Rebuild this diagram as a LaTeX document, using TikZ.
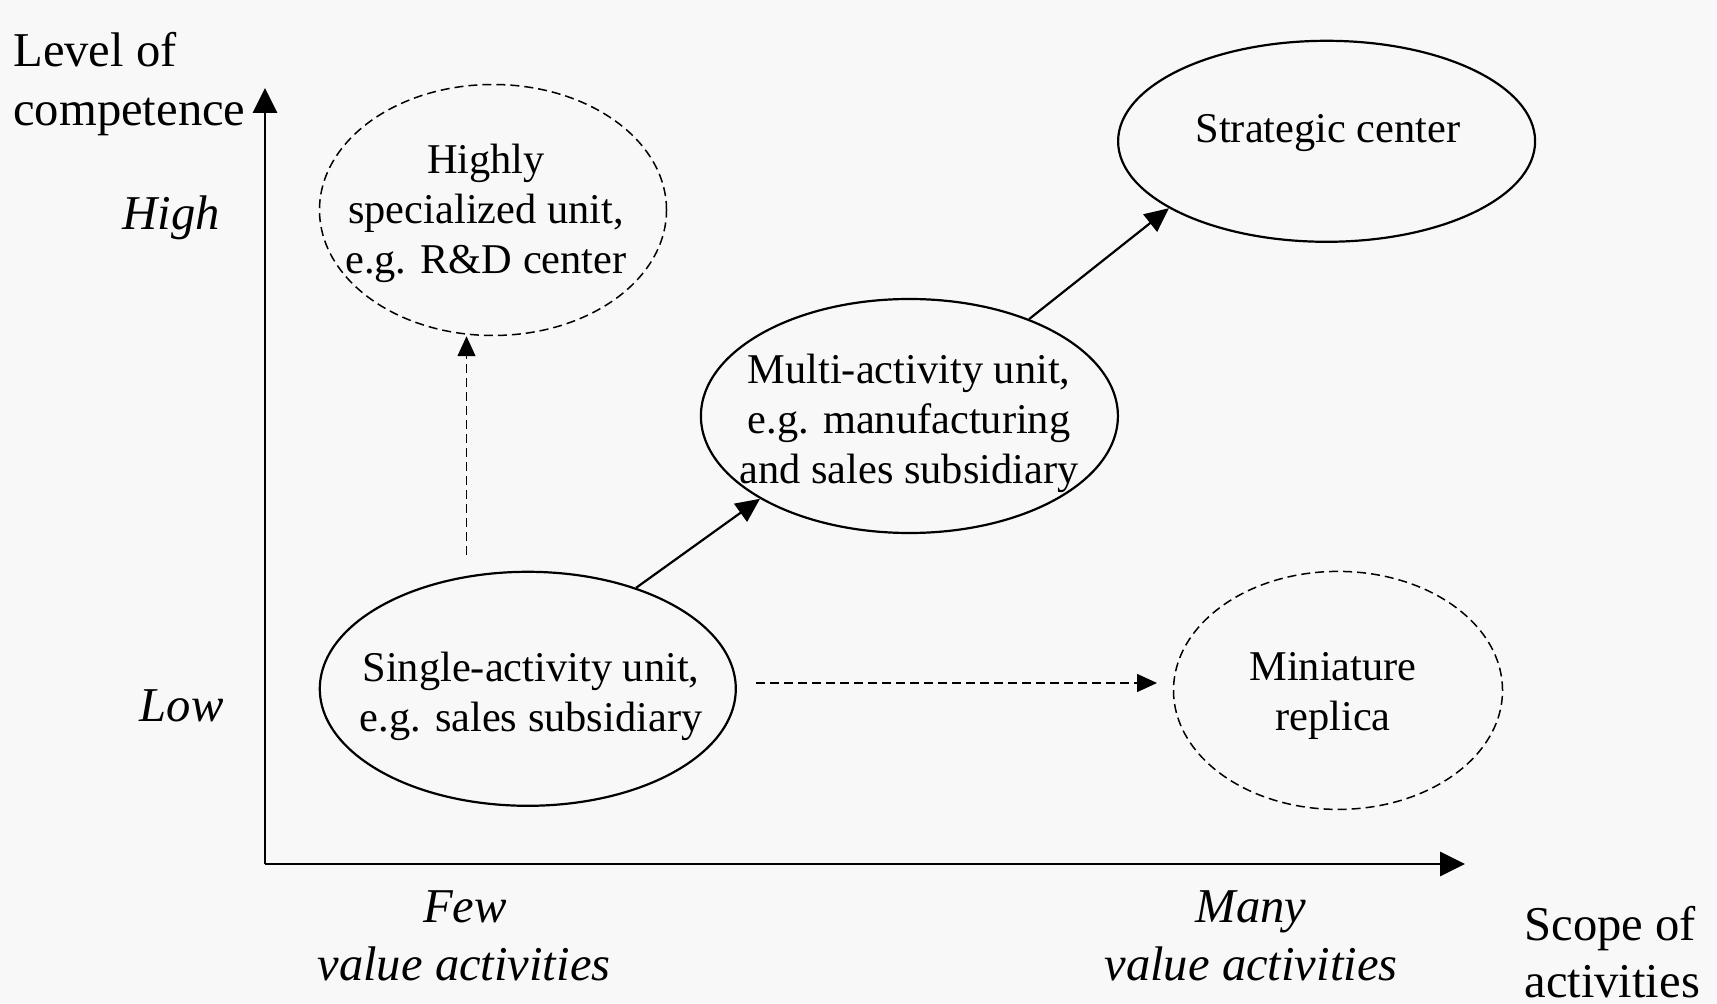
\documentclass[tikz,border=0pt]{standalone}
\usepackage{fontspec}
\setmainfont{Liberation Serif}
\usetikzlibrary{arrows.meta,shapes.geometric}
\definecolor{bg}{HTML}{F8F8F8}
\begin{document}
\begin{tikzpicture}[x=0.5pt,y=-0.5pt,
  unit/.style={ellipse,draw,line width=1.1pt,inner sep=0pt},
  dunit/.style={ellipse,draw,line width=0.75pt,dash pattern=on 4.5pt off 2.5pt,inner sep=0pt},
  utext/.style={align=center,font=\fontsize{21.2}{25}\selectfont,inner sep=0pt},
  axlab/.style={align=left,font=\fontsize{24.3}{29.5}\selectfont,inner sep=0pt},
  itlab/.style={align=center,font=\fontsize{24.3}{29.5}\selectfont\itshape,inner sep=0pt},
  axis/.style={line width=1.4pt,-{Triangle[length=12.5pt,width=12pt]}},
  conn/.style={line width=1.1pt,-{Triangle[length=12pt,width=11pt]}},
  dconn/.style={line width=0.75pt,dash pattern=on 4.5pt off 2.5pt,-{Triangle[length=10pt,width=9pt]}}]
\fill[bg] (0,0) rectangle (1717,1004);
\useasboundingbox (0,0) rectangle (1717,1004);
% axes
\coordinate (o) at (265,864);
\coordinate (ytop) at (265,88);
\coordinate (xend) at (1465,864);
\draw[axis] (o) -- (ytop);
\draw[axis] (o) -- (xend);
% axis labels
\node[axlab,anchor=base west] (lvl) at (13,67) {Level of};
\node[axlab,anchor=base west] (comp) at (13,126) {competence};
\node[itlab,anchor=base east] (high) at (220,230) {High};
\node[itlab,anchor=base east] (low) at (224,721) {Low};
\node[itlab,anchor=base] (few) at (465,922) {Few};
\node[itlab,anchor=base] (fewv) at (464,980) {value activities};
\node[itlab,anchor=base] (many) at (1251,922) {Many};
\node[itlab,anchor=base] (manyv) at (1251,980) {value activities};
\node[axlab,anchor=base west] (scope) at (1524,940) {Scope of};
\node[axlab,anchor=base west] (acts) at (1524,997) {activities};
% ellipses
\node[dunit,minimum width=347pt*0.5,minimum height=251pt*0.5] (highly) at (493,210) {};
\node[unit,minimum width=417pt*0.5,minimum height=201pt*0.5] (strat) at (1326.6,141.3) {};
\node[unit,minimum width=417pt*0.5,minimum height=234pt*0.5] (multi) at (909.4,416) {};
\node[unit,minimum width=416pt*0.5,minimum height=234pt*0.5] (single) at (527.8,688.8) {};
\node[dunit,minimum width=329pt*0.5,minimum height=238pt*0.5] (mini) at (1338,690.4) {};
% texts
\node[utext] (thighly) at (486,213) {Highly\\specialized unit,\\e.g. R\&D center};
\node[utext] (tstrat) at (1328,133) {Strategic center};
\node[utext] (tmulti) at (909,423) {Multi-activity unit,\\e.g. manufacturing\\and sales subsidiary};
\node[utext] (tsingle) at (531,696) {Single-activity unit,\\e.g. sales subsidiary};
\node[utext] (tmini) at (1333,696) {Miniature\\replica};
% connectors
\draw[conn] (single.43.5) -- (multi.209);
\draw[conn] (multi.39.4) -- (strat.203.6);
\coordinate (vs) at (466.5,555);
\draw[dconn] (vs) -- (vs |- highly.south);
\coordinate (hs1) at (756,683);
\coordinate (hs2) at (1157,683);
\draw[dconn] (hs1) -- (hs2);
\end{tikzpicture}
\end{document}
